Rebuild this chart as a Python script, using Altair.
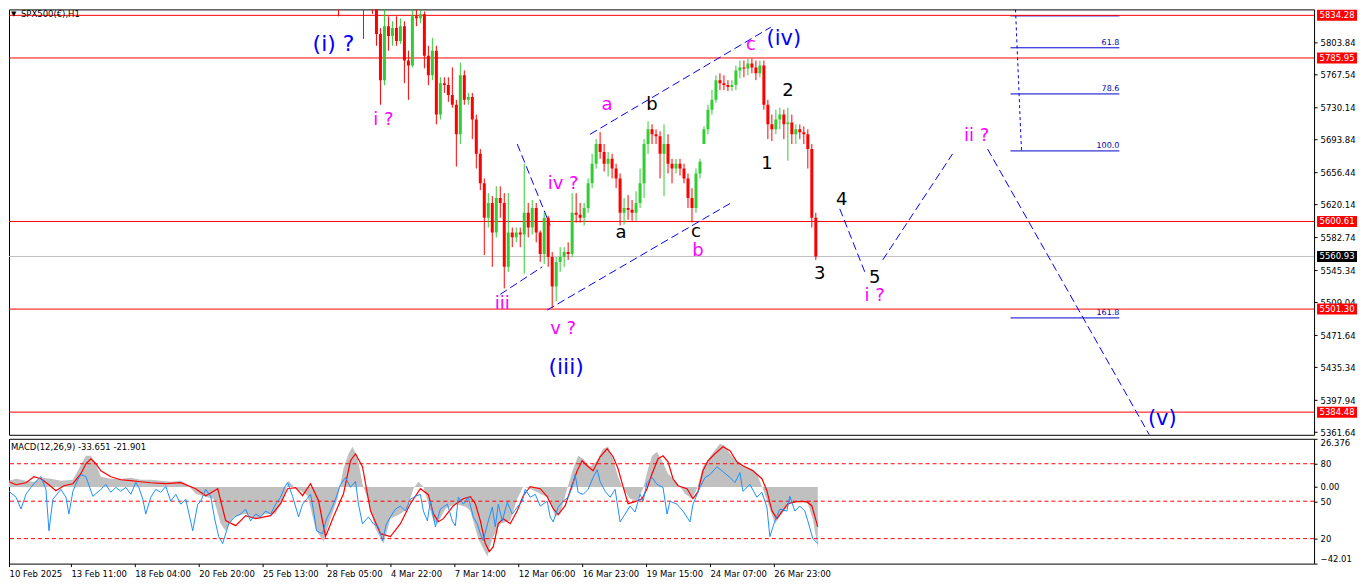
import altair as alt
import pandas as pd

W = 1307
H_MAIN = 426
H_MACD = 125
FONT = "DejaVu Sans"

# ---------------- price candles (grouped) ----------------
bar_x = [338, 363, 372, 376, 380, 384, 388, 392, 396, 400, 404, 408, 412, 416, 420, 424, 428, 432,
         436, 440, 444, 448, 452, 456, 460, 464, 468, 472, 476, 480, 484, 488, 492, 496, 500, 504,
         508, 512, 516, 520, 524, 528, 532, 536, 540, 544, 548, 552, 556, 560, 564, 568, 572, 576,
         580, 584, 588, 592, 596, 600, 604, 608, 612, 616, 620, 624, 628, 632, 636, 640, 644, 648,
         652, 656, 660, 664, 668, 672, 676, 680, 684, 688, 692, 696, 700, 704, 708, 712, 716, 720,
         724, 728, 732, 736, 740, 744, 748, 752, 756, 760, 764, 768, 772, 776, 780, 784, 788, 792,
         796, 800, 804, 808, 812, 816]
opens = [5860, 5850, 5850, 5842.0, 5813.1, 5760.8, 5822.0, 5810.9, 5819.8, 5805.3, 5822.0, 5783.1,
         5777.5, 5833.2, 5830.9, 5835.4, 5788.6, 5766.3, 5794.2, 5721.8, 5757.4, 5755.2, 5744.1,
         5732.9, 5699.5, 5766.3, 5738.5, 5741.8, 5716.2, 5677.3, 5643.9, 5604.9, 5621.6, 5588.2,
         5627.1, 5621.6, 5549.2, 5588.2, 5582.6, 5588.2, 5585.9, 5610.4, 5593.7, 5616.0, 5588.2,
         5563.7, 5604.9, 5560.3, 5526.9, 5554.8, 5560.3, 5565.9, 5563.7, 5610.4, 5608.2, 5604.9,
         5616.0, 5643.9, 5666.1, 5688.4, 5679.5, 5666.1, 5671.7, 5660.6, 5649.4, 5610.4, 5616.0,
         5613.8, 5610.4, 5621.6, 5643.9, 5688.4, 5705.1, 5699.5, 5697.3, 5677.3, 5688.4, 5666.1,
         5660.6, 5666.1, 5660.6, 5649.4, 5627.1, 5616.0, 5655.0, 5688.4, 5705.1, 5727.4, 5738.5,
         5760.8, 5757.4, 5755.2, 5753.0, 5755.2, 5771.9, 5775.3, 5774.1, 5779.7, 5775.3, 5768.6,
         5777.5, 5732.9, 5710.7, 5705.1, 5716.2, 5721.8, 5710.7, 5712.9, 5699.5, 5705.1, 5701.8,
         5699.5, 5682.8, 5604.9]
highs = [5870, 5860, 5858, 5845.0, 5819.8, 5841.0, 5833.2, 5827.6, 5833.2, 5830.9, 5827.6, 5794.2,
         5841.0, 5841.0, 5841.0, 5838.7, 5799.8, 5808.7, 5799.8, 5764.1, 5764.1, 5764.1, 5775.3,
         5738.5, 5780.8, 5771.9, 5746.3, 5746.3, 5721.8, 5682.8, 5649.4, 5632.7, 5629.4, 5640.5,
         5640.5, 5632.7, 5632.7, 5593.7, 5593.7, 5593.7, 5666.1, 5621.6, 5624.9, 5621.6, 5590.4,
         5610.4, 5607.1, 5565.9, 5560.3, 5571.5, 5571.5, 5577.0, 5632.7, 5632.7, 5621.6, 5621.6,
         5649.4, 5677.3, 5694.0, 5701.8, 5688.4, 5679.5, 5677.3, 5666.1, 5655.0, 5627.1, 5630.5,
         5624.9, 5634.9, 5660.6, 5694.0, 5714.0, 5710.7, 5705.1, 5702.9, 5710.7, 5699.5, 5671.7,
         5671.7, 5671.7, 5666.1, 5655.0, 5638.3, 5660.6, 5671.7, 5708.4, 5732.9, 5749.6, 5766.3,
         5768.6, 5766.3, 5760.8, 5760.8, 5777.5, 5783.1, 5783.1, 5785.3, 5785.3, 5783.1, 5783.1,
         5783.1, 5738.5, 5721.8, 5727.4, 5729.6, 5727.4, 5729.6, 5721.8, 5710.7, 5710.7, 5708.4,
         5705.1, 5688.4, 5610.4]
lows = [5833.2, 5807.6, 5836.0, 5799.8, 5732.9, 5755.2, 5794.2, 5799.8, 5799.8, 5802.0, 5757.4,
        5738.5, 5775.3, 5822.0, 5825.4, 5774.1, 5755.2, 5760.8, 5710.7, 5716.2, 5746.3, 5736.3,
        5729.6, 5662.8, 5688.4, 5732.9, 5732.9, 5694.0, 5660.6, 5636.1, 5562.6, 5593.7, 5549.2,
        5582.6, 5604.9, 5524.7, 5543.6, 5571.5, 5577.0, 5571.5, 5541.4, 5582.6, 5585.9, 5577.0,
        5554.8, 5552.5, 5549.2, 5502.4, 5510.2, 5543.6, 5549.2, 5557.0, 5560.3, 5599.3, 5599.3,
        5596.0, 5610.4, 5638.3, 5660.6, 5671.7, 5657.2, 5651.6, 5649.4, 5638.3, 5596.0, 5597.1,
        5602.6, 5601.5, 5601.5, 5616.0, 5627.1, 5677.3, 5688.4, 5688.4, 5649.4, 5629.4, 5655.0,
        5643.9, 5655.0, 5652.8, 5643.9, 5616.0, 5599.3, 5610.4, 5649.4, 5688.4, 5699.5, 5721.8,
        5735.2, 5749.6, 5749.6, 5748.5, 5748.5, 5749.6, 5763.0, 5764.1, 5766.3, 5768.6, 5760.8,
        5764.1, 5727.4, 5694.0, 5691.7, 5699.5, 5705.1, 5694.0, 5669.5, 5688.4, 5688.4, 5694.0,
        5688.4, 5660.6, 5593.7, 5557.0]
closes = [5850, 5845, 5842, 5813.1, 5760.8, 5822.0, 5810.9, 5819.8, 5805.3, 5822.0, 5783.1, 5777.5,
          5833.2, 5830.9, 5835.4, 5788.6, 5766.3, 5794.2, 5721.8, 5757.4, 5755.2, 5744.1, 5732.9,
          5699.5, 5766.3, 5738.5, 5741.8, 5716.2, 5677.3, 5643.9, 5604.9, 5621.6, 5588.2, 5627.1,
          5621.6, 5549.2, 5588.2, 5582.6, 5588.2, 5585.9, 5610.4, 5593.7, 5616.0, 5588.2, 5563.7,
          5604.9, 5560.3, 5526.9, 5554.8, 5560.3, 5565.9, 5563.7, 5610.4, 5608.2, 5604.9, 5616.0,
          5643.9, 5666.1, 5688.4, 5679.5, 5666.1, 5671.7, 5660.6, 5649.4, 5610.4, 5616.0, 5613.8,
          5610.4, 5621.6, 5643.9, 5688.4, 5705.1, 5699.5, 5697.3, 5677.3, 5688.4, 5666.1, 5660.6,
          5666.1, 5660.6, 5649.4, 5627.1, 5616.0, 5655.0, 5668.4, 5705.1, 5727.4, 5738.5, 5760.8,
          5757.4, 5755.2, 5753.0, 5755.2, 5771.9, 5775.3, 5774.1, 5779.7, 5775.3, 5768.6, 5777.5,
          5732.9, 5710.7, 5705.1, 5716.2, 5721.8, 5710.7, 5712.9, 5699.5, 5705.1, 5701.8, 5699.5,
          5682.8, 5604.9, 5560.9]

# ---------------- horizontal levels and price scale ----------------
red_levels = [5834.28, 5785.95, 5600.61, 5501.30, 5384.48]
bid_level = 5560.93
price_ticks = [5803.84, 5767.54, 5730.14, 5693.84, 5656.44, 5620.14, 5582.74, 5545.34,
               5509.04, 5471.64, 5435.34, 5397.94, 5361.64]
price_top, price_bottom = 5841.0, 5358.8

# ---------------- fibonacci tool ----------------
fib_names = ["50.0", "61.8", "78.6", "100.0", "161.8"]
fib_prices = [5833.7, 5797.5, 5745.2, 5680.6, 5491.3]
fib_x_start = 1011
fib_x_end = 1120
fib_stem_x = [1016, 1022]
fib_stem_p = [5841.0, 5680.6]

# ---------------- wave drawing lines ----------------
wave_x1 = [517, 500, 547, 590, 840, 883, 988]
wave_p1 = [5688.4, 5518.0, 5500.2, 5699.5, 5614.9, 5557.0, 5682.8]
wave_x2 = [550, 542, 731, 771, 865, 953, 1150]
wave_p2 = [5596.0, 5549.2, 5621.6, 5820.9, 5543.6, 5677.3, 5358.8]

# ---------------- wave labels ----------------
BLUE, MAG, BLK = "#0000FF", "#FF00FF", "#000000"
lab_text = ["(i) ?", "i ?", "iii", "iv ?", "v ?", "(iii)", "a", "b", "a", "c", "b", "c",
            "(iv)", "2", "1", "4", "3", "5", "i ?", "ii ?", "(v)"]
lab_x = [333, 383, 502, 563, 563, 566, 607, 652, 621, 696, 698, 751,
         784, 788, 767, 842, 820, 875, 875, 977, 1163]
lab_p = [5802.0, 5715.1, 5507.0, 5642.7, 5479.0, 5435.6, 5732.9, 5732.9, 5587.1, 5588.2, 5567.0,
         5800.9, 5807.6, 5748.5, 5666.1, 5625.0, 5541.4, 5536.9, 5515.8, 5697.3, 5376.6]
lab_col = [BLUE, MAG, MAG, MAG, MAG, BLUE, MAG, BLK, BLK, BLK, MAG, MAG,
           BLUE, BLK, BLK, BLK, BLK, BLK, MAG, MAG, BLUE]
lab_size = [22, 18, 18, 18, 18, 22, 18, 18, 18, 18, 18, 18,
            21, 18, 18, 18, 18, 18, 18, 18, 21]

# ---------------- MACD panel ----------------
hist_x = [8, 15, 25, 33, 40, 50, 60, 72, 78, 85, 90, 95, 100, 110, 120, 130, 140, 150, 160, 170,
          180, 187, 195, 205, 213, 220, 225, 233, 245, 255, 265, 275, 283, 288, 295, 300, 307, 315,
          323, 330, 337, 343, 348, 352, 357, 362, 367, 375, 383, 390, 400, 407, 413, 418, 423, 428,
          433, 437, 445, 455, 465, 470, 478, 487, 492, 500, 510, 517, 523, 530, 540, 550, 555, 560,
          567, 573, 578, 583, 590, 597, 603, 608, 613, 618, 623, 630, 637, 643, 648, 652, 657, 662,
          668, 673, 678, 685, 692, 697, 703, 710, 716, 720, 725, 730, 737, 745, 752, 757, 763, 770,
          775, 782, 790, 800, 808, 813, 818]
hist_v = [3.40, 4.49, 3.40, 2.85, 5.04, 4.49, 3.40, 3.94, 9.96, 17.08,
          17.08, 12.70, 5.59, 4.49, 4.49, 5.04, 3.94, 3.94, 3.40, 2.85,
          3.40, 1.21, -3.71, -5.35, -6.45, -20.13, -23.96, -16.30, -14.66, -17.39,
          -14.66, -14.66, -6.45, 3.40, -0.98, -2.07, -4.81, -22.86, -29.97, -17.39,
          -6.45, 9.96, 18.17, 22.00, 16.53, 1.76, -6.45, -22.86, -31.07, -17.39,
          -14.66, -11.92, -0.98, 2.85, 0.12, -9.18, -18.48, -20.13, -11.92, -9.18,
          -10.83, -13.01, -28.33, -38.18, -28.33, -20.13, -18.48, -6.45, 0.12, -0.98,
          -3.71, -6.45, -16.30, -14.66, -0.98, 9.96, 17.08, 15.43, 11.06, 14.34,
          20.91, 22.00, 15.43, 5.59, -0.98, -6.45, -7.54, -0.98, 9.96, 17.08,
          19.26, 14.34, 7.23, 4.49, 1.76, -3.71, -6.45, -0.98, 11.06, 16.53,
          20.91, 23.64, 22.55, 18.17, 13.79, 11.06, 9.96, 7.23, -0.98, -11.92,
          -20.13, -14.66, -9.18, -7.54, -9.18, -17.39, -33.65]

sig_x = [8, 15, 25, 33, 40, 48, 55, 63, 72, 80, 85, 90, 95, 100, 110, 120, 130, 140, 150, 165,
         180, 195, 205, 212, 217, 225, 235, 245, 255, 270, 280, 287, 295, 302, 310, 318, 325, 333,
         343, 350, 355, 362, 370, 380, 390, 400, 410, 420, 428, 433, 438, 443, 453, 463, 470, 475,
         480, 485, 489, 493, 498, 503, 510, 517, 523, 530, 540, 547, 553, 558, 565, 570, 577, 582,
         587, 593, 600, 607, 613, 618, 623, 628, 635, 642, 647, 652, 658, 663, 668, 673, 678, 687,
         693, 698, 703, 708, 715, 723, 730, 737, 743, 753, 762, 767, 772, 777, 782, 788, 797, 807,
         812, 818]
sig_v = [2.85, 1.21, 2.30, 5.59, 4.49, 1.21, -2.07, 0.66, 1.76, 7.23,
         12.70, 15.43, 12.70, 8.87, 5.59, 3.94, 3.40, 2.85, 2.30, 1.76,
         2.30, -0.98, -4.81, -2.62, -0.98, -18.48, -21.22, -15.75, -17.39, -15.75,
         -9.18, -0.98, -0.43, -4.81, 1.76, -7.54, -27.24, -16.30, -3.71, 14.34,
         18.17, 11.06, -13.01, -25.60, -27.24, -20.13, -9.18, -0.98, -4.26, -14.66,
         -19.03, -17.39, -10.28, -6.45, -5.35, -9.18, -18.48, -31.07, -35.45, -32.71,
         -20.13, -17.39, -20.13, -13.01, -4.81, 0.12, -0.98, -5.35, -11.92, -15.20,
         -10.28, -2.07, 8.87, 14.34, 11.60, 8.87, 16.53, 20.91, 16.53, 9.96,
         0.12, -9.18, -8.09, -6.45, -0.98, 7.23, 15.43, 17.08, 13.79, 4.49,
         0.66, -0.98, -6.45, -2.62, 8.87, 14.34, 18.17, 22.00, 19.81, 13.79,
         11.60, 8.87, 4.49, -2.07, -13.01, -17.39, -13.56, -9.18, -8.09, -8.09,
         -10.28, -21.90]

osc_x = [8, 15, 20, 25, 30, 35, 40, 45, 48, 52, 60, 65, 68, 72, 77, 80, 85, 92, 100, 105,
         110, 115, 120, 125, 130, 135, 138, 142, 145, 150, 155, 160, 165, 170, 175, 180, 185, 192,
         197, 200, 205, 210, 214, 218, 222, 228, 234, 240, 245, 250, 255, 260, 265, 270, 275, 280,
         284, 287, 292, 298, 302, 306, 310, 313, 316, 322, 326, 330, 335, 340, 345, 350, 355, 358,
         362, 368, 373, 378, 382, 386, 390, 395, 400, 405, 410, 415, 420, 423, 427, 430, 435, 440,
         447, 452, 455, 458, 463, 468, 473, 477, 480, 483, 488, 492, 495, 498, 502, 507, 512, 517,
         522, 525, 530, 535, 540, 547, 550, 553, 558, 563, 568, 572, 575, 578, 583, 588, 593, 597,
         600, 605, 610, 615, 620, 625, 630, 635, 640, 643, 647, 652, 657, 663, 667, 670, 677, 683,
         690, 693, 700, 705, 710, 717, 723, 730, 735, 740, 743, 750, 757, 762, 767, 770, 775, 780,
         787, 790, 795, 800, 805, 808, 813, 818]
osc_v = [57.9, 53.2, 43.7, 55.5, 61.1, 65.8, 69.7, 59.5, 26.3, 51.6,
         59.5, 53.2, 39.7, 57.9, 67.4, 71.3, 69.7, 53.9, 59.5, 63.4,
         57.1, 61.1, 57.9, 61.1, 55.5, 65.0, 61.1, 51.6, 39.7, 53.2,
         59.5, 57.1, 61.8, 50.0, 55.5, 47.6, 51.6, 26.3, 47.6, 50.0,
         59.5, 53.9, 35.8, 21.6, 16.0, 31.8, 37.4, 39.7, 43.7, 34.2,
         39.7, 37.4, 42.1, 39.7, 47.6, 53.2, 61.1, 65.0, 53.9, 37.4,
         47.6, 51.6, 55.5, 42.1, 26.3, 23.9, 35.8, 42.1, 51.6, 63.4,
         69.0, 61.1, 65.8, 47.6, 31.8, 37.4, 31.8, 29.5, 18.4, 31.8,
         37.4, 43.7, 46.1, 42.1, 51.6, 53.9, 55.5, 42.1, 34.2, 50.0,
         29.5, 43.7, 47.6, 34.2, 30.2, 53.2, 47.6, 53.2, 37.4, 31.8,
         23.9, 18.4, 34.2, 45.3, 29.5, 47.6, 34.2, 49.2, 39.7, 45.3,
         50.0, 59.5, 53.2, 55.5, 46.1, 50.0, 37.4, 33.4, 45.3, 50.0,
         53.2, 61.1, 71.3, 57.1, 55.5, 59.5, 69.0, 75.3, 65.8, 57.9,
         53.2, 59.5, 33.4, 39.7, 46.1, 41.3, 55.5, 50.0, 65.0, 69.0,
         63.4, 61.1, 39.7, 50.0, 47.6, 42.1, 33.4, 47.6, 61.1, 69.0,
         71.3, 77.6, 73.7, 69.0, 65.0, 72.9, 57.9, 63.4, 53.2, 57.1,
         45.3, 21.6, 34.2, 43.7, 42.1, 53.9, 42.1, 46.1, 42.1, 34.2,
         20.0, 16.0]
osc_levels = [80, 50, 20]
macd_ticks = [26.376, 0, -42.01]

x_ticks = [8, 70, 134, 198, 262, 326, 390, 454, 518, 582, 646, 710, 774]
x_labels = ["10 Feb 2025", "13 Feb 11:00", "18 Feb 04:00", "20 Feb 20:00", "25 Feb 13:00",
            "28 Feb 05:00", "4 Mar 22:00", "7 Mar 14:00", "12 Mar 06:00", "16 Mar 23:00",
            "19 Mar 15:00", "24 Mar 07:00", "26 Mar 23:00"]

# ================= build =================
x_scale = alt.Scale(domain=[8, 1315], nice=False, zero=False)
y_scale = alt.Scale(domain=[price_bottom, price_top], nice=False, zero=False)
m_scale = alt.Scale(domain=[-42.01, 26.376], nice=False, zero=False)
s_scale = alt.Scale(domain=[0, 100], nice=False, zero=False)

price_axis = alt.Axis(orient="right", values=price_ticks, format=".2f", labelFont=FONT,
                      labelFontSize=8.5, labelColor="black", tickColor="black", tickSize=3,
                      labelPadding=3, domain=False, grid=False, labelOverlap=False,
                      labelFlush=False, labelBound=False, title=None)

label_expr = ("[" + ",".join(f"'{s}'" for s in x_labels) + "][indexof(["
              + ",".join(str(v) for v in x_ticks) + "], datum.value)]")
x_axis = alt.Axis(values=x_ticks, labelExpr=label_expr, labelAlign="left", labelFont=FONT,
                  labelFontSize=8.5, labelColor="black", tickColor="black", tickSize=3,
                  labelPadding=3, domain=False, grid=False, labelOverlap=False,
                  labelFlush=False, labelBound=False, orient="bottom", title=None)


def X(field):
    return alt.X(field, type="quantitative", scale=x_scale, axis=None, title=None)


def XM(field):
    return alt.X(field, type="quantitative", scale=x_scale, axis=x_axis, title=None)


def Y(field):
    return alt.Y(field, type="quantitative", scale=y_scale, axis=price_axis, title=None)


candles = pd.DataFrame({"bx": bar_x, "o": opens, "h": highs, "l": lows, "c": closes})
candles["col"] = ["#32CD32" if c >= o else "#FF0000" for o, c in zip(opens, closes)]

hlines = alt.Chart(pd.DataFrame({"p": red_levels})).mark_rule(color="#FF0000", strokeWidth=1).encode(
    y=Y("p:Q"))
bid = alt.Chart(pd.DataFrame({"p": [bid_level]})).mark_rule(color="#C0C0C0", strokeWidth=1).encode(
    y=Y("p:Q"))

fib_df = pd.DataFrame({"n": fib_names, "p": fib_prices,
                       "x1": [fib_x_start] * len(fib_prices), "x2": [fib_x_end] * len(fib_prices)})
fib_lines = alt.Chart(fib_df).mark_rule(color="#0000CD", strokeWidth=1, clip=True).encode(
    x=X("x1:Q"), x2="x2:Q", y=Y("p:Q"))
fib_text = alt.Chart(fib_df.iloc[1:]).mark_text(font=FONT, fontSize=8, color="#0000A0", align="right",
                                                baseline="bottom", dy=-1).encode(
    x=X("x2:Q"), y=Y("p:Q"), text="n:N")
stem = alt.Chart(pd.DataFrame({"x1": [fib_stem_x[0]], "x2": [fib_stem_x[1]],
                               "p1": [fib_stem_p[0]], "p2": [fib_stem_p[1]]})).mark_rule(
    color="#0000CD", strokeDash=[3, 3], clip=True).encode(x=X("x1:Q"), x2="x2:Q", y=Y("p1:Q"), y2="p2:Q")

waves = alt.Chart(pd.DataFrame({"x1": wave_x1, "p1": wave_p1, "x2": wave_x2, "p2": wave_p2})).mark_rule(
    color="#0000FF", strokeWidth=1, strokeDash=[8, 4], clip=True).encode(
    x=X("x1:Q"), x2="x2:Q", y=Y("p1:Q"), y2="p2:Q")

wicks = alt.Chart(candles).mark_rule(strokeWidth=1, clip=True).encode(
    x=X("bx:Q"), y=Y("l:Q"), y2="h:Q", color=alt.Color("col:N", scale=None))
bodies = alt.Chart(candles).mark_rule(strokeWidth=3, clip=True).encode(
    x=X("bx:Q"), y=Y("o:Q"), y2="c:Q", color=alt.Color("col:N", scale=None))

labels = alt.Chart(pd.DataFrame({"t": lab_text, "x": lab_x, "p": lab_p, "col": lab_col,
                                 "fs": lab_size})).mark_text(
    font=FONT, align="center", baseline="middle").encode(
    x=X("x:Q"), y=Y("p:Q"), text="t:N", color=alt.Color("col:N", scale=None),
    size=alt.Size("fs:Q", scale=None))

# price tag boxes on the right scale (box half-height ~5.5 px in price units)
px_per_price = H_MAIN / (price_top - price_bottom)
half_box = 5.5 / px_per_price
box_df = pd.DataFrame({"p": red_levels + [bid_level],
                       "col": ["#FF0000"] * len(red_levels) + ["#000000"]})
box_df["lo"] = box_df["p"] - half_box
box_df["hi"] = box_df["p"] + half_box
box_df["lbl"] = [f"{v:.2f}" for v in box_df["p"]]
boxes = alt.Chart(box_df).mark_rect().encode(
    x=alt.value(W + 3), x2=alt.value(W + 43), y=Y("lo:Q"), y2="hi:Q",
    color=alt.Color("col:N", scale=None))
box_text = alt.Chart(box_df).mark_text(font=FONT, fontSize=8.5, color="white", align="center",
                                       baseline="middle").encode(
    x=alt.value(W + 23), y=Y("p:Q"), text="lbl:N")

head = alt.Chart(pd.DataFrame({"t": ["SPX500(€),H1"]})).mark_text(
    font=FONT, fontSize=8.5, color="black", align="left", baseline="middle").encode(
    x=alt.value(12), y=alt.value(5), text="t:N")
tri = alt.Chart(pd.DataFrame({"t": ["▼"]})).mark_text(
    font=FONT, fontSize=7, color="black", align="left", baseline="middle").encode(
    x=alt.value(2), y=alt.value(5), text="t:N")

main = alt.layer(fib_lines, fib_text, stem, hlines, bid, waves, wicks, bodies, labels,
                 boxes, box_text, head, tri).properties(width=W, height=H_MAIN)

# ---- MACD panel ----
macd_axis = alt.Axis(orient="right", values=macd_ticks,
                     labelExpr="datum.value == 0 ? '0.00' : format(datum.value, datum.value > 0 ? '.3f' : '.2f')",
                     labelFlush=True, labelFont=FONT, labelFontSize=8.5, labelColor="black",
                     tickColor="black", tickSize=3, labelPadding=3, domain=False, grid=False,
                     labelOverlap=False, title=None)
osc_axis = alt.Axis(orient="right", values=osc_levels, format="d", labelFont=FONT,
                    labelFontSize=8.5, labelColor="black", tickColor="black", tickSize=3,
                    labelPadding=3, domain=False, grid=False, labelOverlap=False, labelFlush=False,
                    title=None)

hist = alt.Chart(pd.DataFrame({"bx": hist_x, "v": hist_v})).mark_area(
    color="#C0C0C0", clip=True, opacity=1).encode(
    x=XM("bx:Q"),
    y=alt.Y("v:Q", scale=m_scale, axis=macd_axis, title=None),
    y2=alt.datum(0))
sig = alt.Chart(pd.DataFrame({"bx": sig_x, "v": sig_v})).mark_line(
    color="#FF0000", strokeWidth=1.2, clip=True).encode(
    x=XM("bx:Q"), y=alt.Y("v:Q", scale=m_scale, axis=None, title=None))
lev = alt.Chart(pd.DataFrame({"lv": osc_levels})).mark_rule(
    color="#FF0000", strokeWidth=1, strokeDash=[4, 3]).encode(
    y=alt.Y("lv:Q", scale=s_scale, axis=osc_axis, title=None))
osc = alt.Chart(pd.DataFrame({"bx": osc_x, "v": osc_v})).mark_line(
    color="#1E90FF", strokeWidth=1, clip=True).encode(
    x=XM("bx:Q"), y=alt.Y("v:Q", scale=s_scale, axis=None, title=None))
mhead = alt.Chart(pd.DataFrame({"t": ["MACD(12,26,9) -33.651 -21.901"]})).mark_text(
    font=FONT, fontSize=8.5, color="black", align="left", baseline="middle").encode(
    x=alt.value(2), y=alt.value(8), text="t:N")

macd = alt.layer(hist, sig, lev, osc, mhead).resolve_scale(y="independent").properties(
    width=W, height=H_MACD)

chart = alt.vconcat(main, macd, spacing=4, bounds="flush").properties(
    padding={"left": 0, "top": 0, "right": 0, "bottom": 0},
    background="white",
).configure_view(stroke="black", strokeWidth=1)

chart.save("out.html", embed_options={"renderer": "svg", "actions": False})
